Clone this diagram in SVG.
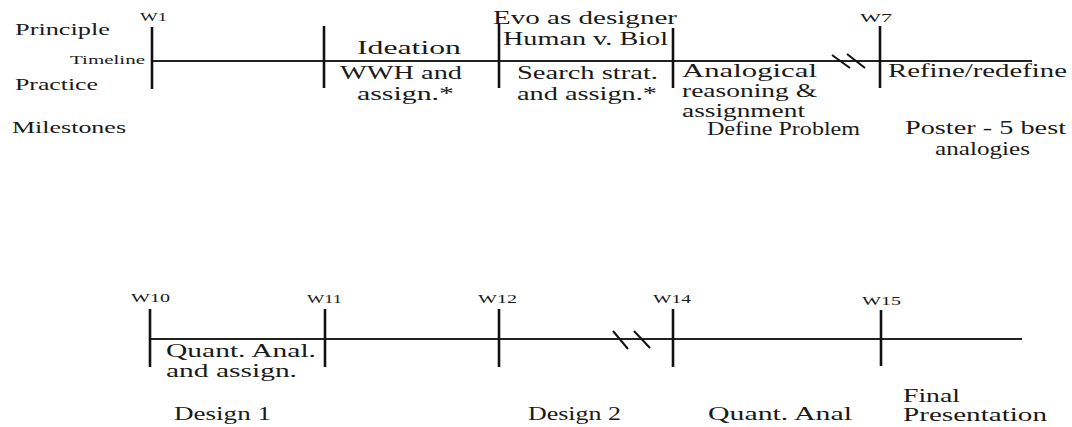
<svg xmlns="http://www.w3.org/2000/svg" width="1072" height="427" viewBox="0 0 1072 427">
<style>
.bg{fill:#fff}
.axis{stroke:#222;stroke-width:2;fill:none}
.tick{stroke:#111;stroke-width:2.6;fill:none}
.brk{stroke:#111;stroke-width:2;fill:none}
text{font-family:"Liberation Serif","DejaVu Serif",serif;fill:#1a1a1a}
.t{font-size:18px}
.s{font-size:13px}
.side{font-size:16px}
.tl{font-size:12px}
</style>
<rect class="bg" x="0" y="0" width="1072" height="427"/>
<g id="connectors">
<line class="axis" x1="152" y1="61" x2="1032" y2="61"/>
<line class="axis" x1="150" y1="339" x2="1022" y2="339"/>
<line class="brk" x1="832" y1="55" x2="850" y2="68"/>
<line class="brk" x1="847" y1="54" x2="865" y2="68"/>
<line class="brk" x1="613" y1="331" x2="628" y2="349"/>
<line class="brk" x1="634" y1="331" x2="650" y2="348"/>
</g>
<g id="labels-left">
<text class="side" x="15" y="35" textLength="95" lengthAdjust="spacingAndGlyphs">Principle</text>
<text class="tl" x="70" y="64" textLength="75" lengthAdjust="spacingAndGlyphs">Timeline</text>
<text class="side" x="15" y="90" textLength="83" lengthAdjust="spacingAndGlyphs">Practice</text>
<text class="side" x="12" y="133" textLength="114" lengthAdjust="spacingAndGlyphs">Milestones</text>
</g>
<g id="w1">
<line class="tick" x1="152" y1="27" x2="152" y2="89"/>
<text class="s" x="140" y="21" textLength="27" lengthAdjust="spacingAndGlyphs">W1</text>
</g>
<g id="ideation">
<line class="tick" x1="324" y1="26" x2="324" y2="88"/>
<text class="t" x="357" y="54" textLength="104" lengthAdjust="spacingAndGlyphs">Ideation</text>
<text class="t" x="340" y="79" textLength="122" lengthAdjust="spacingAndGlyphs">WWH and</text>
<text class="t" x="357" y="100" textLength="97" lengthAdjust="spacingAndGlyphs">assign.*</text>
</g>
<g id="evo">
<line class="tick" x1="499" y1="23" x2="499" y2="88"/>
<line class="tick" x1="673" y1="28" x2="673" y2="88"/>
<text class="t" x="493" y="24" textLength="184" lengthAdjust="spacingAndGlyphs">Evo as designer</text>
<text class="t" x="503" y="45" textLength="165" lengthAdjust="spacingAndGlyphs">Human v. Biol</text>
<text class="t" x="517" y="79" textLength="141" lengthAdjust="spacingAndGlyphs">Search strat.</text>
<text class="t" x="517" y="100" textLength="140" lengthAdjust="spacingAndGlyphs">and assign.*</text>
</g>
<g id="analogical">
<text class="t" x="682" y="77" textLength="135" lengthAdjust="spacingAndGlyphs">Analogical</text>
<text class="t" x="682" y="97" textLength="135" lengthAdjust="spacingAndGlyphs">reasoning &amp;</text>
<text class="t" x="682" y="117" textLength="123" lengthAdjust="spacingAndGlyphs">assignment</text>
<text class="t" x="707" y="135" textLength="153" lengthAdjust="spacingAndGlyphs">Define Problem</text>
</g>
<g id="w7">
<line class="tick" x1="880" y1="26" x2="880" y2="88"/>
<text class="s" x="860" y="22" textLength="32" lengthAdjust="spacingAndGlyphs">W7</text>
<text class="t" x="888" y="77" textLength="179" lengthAdjust="spacingAndGlyphs">Refine/redefine</text>
<text class="t" x="905" y="134" textLength="161" lengthAdjust="spacingAndGlyphs">Poster - 5 best</text>
<text class="t" x="935" y="155" textLength="95" lengthAdjust="spacingAndGlyphs">analogies</text>
</g>
<g id="w10">
<line class="tick" x1="150" y1="309" x2="150" y2="367"/>
<text class="s" x="131" y="302" textLength="39" lengthAdjust="spacingAndGlyphs">W10</text>
<text class="t" x="166" y="357" textLength="150" lengthAdjust="spacingAndGlyphs">Quant. Anal.</text>
<text class="t" x="166" y="377" textLength="131" lengthAdjust="spacingAndGlyphs">and assign.</text>
<text class="t" x="174" y="420" textLength="97" lengthAdjust="spacingAndGlyphs">Design 1</text>
</g>
<g id="w11">
<line class="tick" x1="325" y1="309" x2="325" y2="367"/>
<text class="s" x="307" y="303" textLength="35" lengthAdjust="spacingAndGlyphs">W11</text>
</g>
<g id="w12">
<line class="tick" x1="499" y1="309" x2="499" y2="367"/>
<text class="s" x="478" y="303" textLength="39" lengthAdjust="spacingAndGlyphs">W12</text>
<text class="t" x="528" y="420" textLength="93" lengthAdjust="spacingAndGlyphs">Design 2</text>
</g>
<g id="w14">
<line class="tick" x1="673" y1="309" x2="673" y2="367"/>
<text class="s" x="653" y="303" textLength="38" lengthAdjust="spacingAndGlyphs">W14</text>
<text class="t" x="708" y="420" textLength="144" lengthAdjust="spacingAndGlyphs">Quant. Anal</text>
</g>
<g id="w15">
<line class="tick" x1="881" y1="310" x2="881" y2="366"/>
<text class="s" x="862" y="305" textLength="39" lengthAdjust="spacingAndGlyphs">W15</text>
<text class="t" x="903" y="402" textLength="57" lengthAdjust="spacingAndGlyphs">Final</text>
<text class="t" x="903" y="421" textLength="144" lengthAdjust="spacingAndGlyphs">Presentation</text>
</g>
</svg>
